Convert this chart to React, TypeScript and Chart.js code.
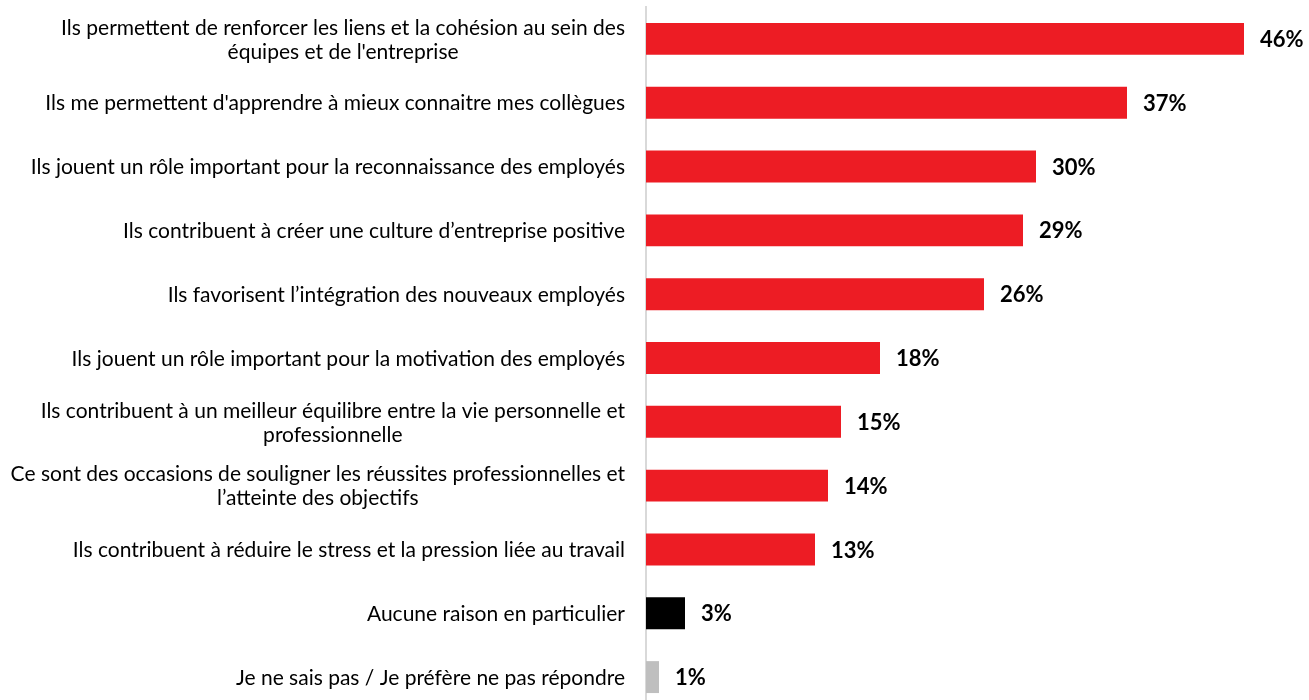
import React, { useEffect, useRef } from "react";
import { Chart, registerables } from "chart.js";

Chart.register(...registerables);

const categories: string[][] = [
  ["Ils permettent de renforcer les liens et la cohésion au sein des", "équipes et de l'entreprise"],
  ["Ils me permettent d'apprendre à mieux connaitre mes collègues"],
  ["Ils jouent un rôle important pour la reconnaissance des employés"],
  ["Ils contribuent à créer une culture d’entreprise positive"],
  ["Ils favorisent l’intégration des nouveaux employés"],
  ["Ils jouent un rôle important pour la motivation des employés"],
  ["Ils contribuent à un meilleur équilibre entre la vie personnelle et", "professionnelle"],
  ["Ce sont des occasions de souligner les réussites professionnelles et", "l’atteinte des objectifs"],
  ["Ils contribuent à réduire le stress et la pression liée au travail"],
  ["Aucune raison en particulier"],
  ["Je ne sais pas / Je préfère ne pas répondre"],
];

const values: number[] = [46, 37, 30, 29, 26, 18, 15, 14, 13, 3, 1];

const barColors: string[] = [
  "#ED1C24", "#ED1C24", "#ED1C24", "#ED1C24", "#ED1C24", "#ED1C24",
  "#ED1C24", "#ED1C24", "#ED1C24", "#000000", "#BFBFBF",
];

const LABEL_FONT = '21px Lato, "Open Sans", sans-serif';
const VALUE_FONT = 'bold 22px Lato, "Open Sans", sans-serif';

const labelsPlugin = {
  id: "sideLabels",
  afterDraw(chart: any) {
    const { ctx, chartArea } = chart;
    const yScale = chart.scales.y;
    const xScale = chart.scales.x;
    ctx.save();
    ctx.fillStyle = "#000000";
    ctx.textBaseline = "middle";
    categories.forEach((lines, i) => {
      const yc = yScale.getPixelForValue(i);
      ctx.font = LABEL_FONT;
      const maxW = Math.max(...lines.map((l) => ctx.measureText(l).width));
      const right = chartArea.left - 21;
      const cx = right - maxW / 2;
      ctx.textAlign = "center";
      const lh = 24;
      lines.forEach((l, j) => {
        const ly = yc + 1 + (j - (lines.length - 1) / 2) * lh;
        ctx.fillText(l, cx, ly);
      });
      ctx.font = VALUE_FONT;
      ctx.textAlign = "left";
      const xe = xScale.getPixelForValue(values[i]);
      ctx.fillText(values[i] + "%", xe + 16, yc + 1);
    });
    ctx.restore();
  },
};

export default function App() {
  const ref = useRef<HTMLCanvasElement | null>(null);
  useEffect(() => {
    if (!ref.current) return;
    const chart = new Chart(ref.current, {
      type: "bar",
      data: {
        labels: categories.map((c) => c.join(" ")),
        datasets: [
          {
            data: values,
            backgroundColor: barColors,
            borderWidth: 0,
            barPercentage: 0.5,
            categoryPercentage: 1,
          },
        ],
      },
      options: {
        indexAxis: "y",
        animation: false,
        responsive: true,
        maintainAspectRatio: false,
        layout: { padding: { left: 646, top: 7, right: 0, bottom: 0 } },
        plugins: { legend: { display: false }, tooltip: { enabled: false } },
        scales: {
          x: { display: false, min: 0, max: 51 },
          y: {
            display: true,
            ticks: { display: false },
            grid: { display: false },
            border: { display: true, color: "#D9D9D9", width: 2 },
            afterFit: (s: any) => {
              s.width = 0;
            },
          },
        },
      },
      plugins: [labelsPlugin],
    });
    return () => chart.destroy();
  }, []);
  return (
    <div style={{ position: "fixed", top: 0, left: 0, width: 1309, height: 700, overflow: "hidden", background: "#fff" }}>
      <div style={{ position: "absolute", top: 0, left: 0, width: 1309, height: 709 }}>
        <canvas ref={ref} />
      </div>
    </div>
  );
}
